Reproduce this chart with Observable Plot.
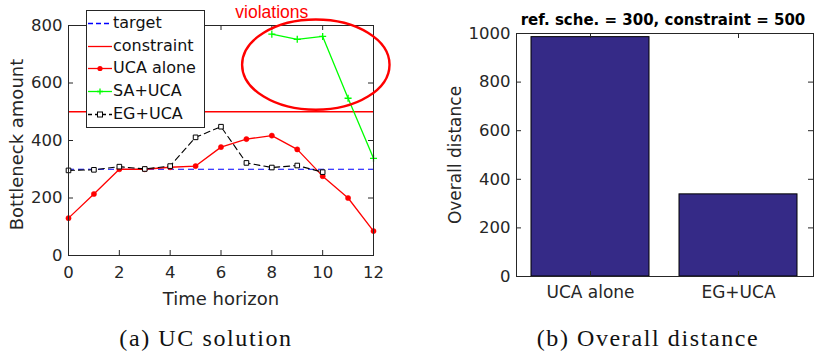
<!DOCTYPE html>
<html>
<head>
<meta charset="utf-8">
<script src="https://cdn.jsdelivr.net/npm/d3@7"></script>
<script src="https://cdn.jsdelivr.net/npm/@observablehq/plot@0.6"></script>
<style>
  html, body { margin: 0; padding: 0; background: #fff; }
  #page { position: relative; width: 814px; height: 353px; overflow: hidden; background: #fff; }
  #left, #right { position: absolute; top: 0; }
  #left { left: 0; }
  #right { left: 410px; }
  svg { overflow: visible; }
  #legend { position: absolute; left: 86px; top: 10px; width: 117px; height: 115px; border: 1px solid #262626; background: #fff;
            font-family: "DejaVu Sans"; font-size: 16px; color: #111; padding-top: 1px; box-sizing: content-box; }
  .row { height: 22.7px; line-height: 22.7px; display: flex; align-items: center; white-space: nowrap; }
  .row svg { width: 26px; height: 22.7px; flex: none; }
  .cap { position: absolute; font-family: "Liberation Serif"; font-size: 24px; letter-spacing: 1.6px; line-height: 24px; color: #111;
         transform: translateX(-50%); white-space: nowrap; }
</style>
</head>
<body>
<div id="page">
  <div id="left"></div>
  <div id="right"></div>
  <div id="legend"></div>
  <div class="cap" id="capA" style="left:206px; top:326px;"></div>
  <div class="cap" id="capB" style="left:648px; top:326px;"></div>
</div>
<script>
// ---------- data ----------
const timeSteps = [0, 1, 2, 3, 4, 5, 6, 7, 8, 9, 10, 11, 12];
const ucaAlone  = [130, 214, 300, 300, 307, 311, 377, 405, 417, 369, 276, 200, 85];
const saUcaTime = [8, 9, 10, 11, 12];
const saUca     = [770, 752, 762, 547, 338];
const egUcaTime = [0, 1, 2, 3, 4, 5, 6, 7, 8, 9, 10];
const egUca     = [296, 298, 309, 301, 311, 411, 448, 322, 306, 313, 290];
const targetValue = [300];
const constraintValue = [500];
const xTicks = [0, 2, 4, 6, 8, 10, 12];
const yTicksLeft = [0, 200, 400, 600, 800];

const barCategories = ["UCA alone", "EG+UCA"];
const barDistance   = [985, 338];
const yTicksRight = [0, 200, 400, 600, 800, 1000];

const legendLabels = ["target", "constraint", "UCA alone", "SA+UCA", "EG+UCA"];
const violationNote = [{label: "violations", x: 8.0}];
const violationEllipse = {cx: 9.75, cy: 662, rx: 2.9, ry: 157};
const rightTitle = "ref. sche. = 300, constraint = 500";
const captions = ["(a) UC solution", "(b) Overall distance"];

// ---------- styles ----------
const AX = "#262626";
const RED = "#ff0000", GREEN = "#00ff00", BLUE = "#0000ff", BLACK = "#000000";
const BAR = "#352a87";
const plain = d3.format("d");

// ---------- left plot ----------
const L = {width: 410, height: 310, marginLeft: 68, marginRight: 37, marginTop: 25, marginBottom: 55};
const LW = L.width - L.marginLeft - L.marginRight;   // 305
const LH = L.height - L.marginTop - L.marginBottom;  // 230

const ucaData = timeSteps.map((t, i) => ({t, v: ucaAlone[i]}));
const saData = saUcaTime.map((t, i) => ({t, v: saUca[i]}));
const egData = egUcaTime.map((t, i) => ({t, v: egUca[i]}));

function ellipseMark(e) {
  return function(index, scales) {
    const x = scales.x, y = scales.y;
    const cx = x(e.cx), cy = y(e.cy);
    const rx = Math.abs(x(e.cx + e.rx) - cx), ry = Math.abs(y(e.cy + e.ry) - cy);
    const el = document.createElementNS("http://www.w3.org/2000/svg", "ellipse");
    el.setAttribute("cx", cx); el.setAttribute("cy", cy);
    el.setAttribute("rx", rx); el.setAttribute("ry", ry);
    el.setAttribute("fill", "none"); el.setAttribute("stroke", RED); el.setAttribute("stroke-width", 2.4);
    return el;
  };
}

const leftPlot = Plot.plot({
  ...L,
  style: {fontFamily: "DejaVu Sans", fontSize: "16.5px", color: AX, background: "transparent", overflow: "visible"},
  x: {domain: [0, 12]},
  y: {domain: [0, 800]},
  marks: [
    Plot.ruleY(targetValue, {y: d => d, stroke: BLUE, strokeWidth: 1.2, strokeDasharray: "6,4"}),
    Plot.ruleY(constraintValue, {y: d => d, stroke: RED, strokeWidth: 1.3}),
    Plot.line(ucaData, {x: "t", y: "v", stroke: RED, strokeWidth: 1.3}),
    Plot.dot(ucaData, {x: "t", y: "v", r: 2.6, fill: RED, stroke: RED, strokeWidth: 0.5}),
    Plot.line(saData, {x: "t", y: "v", stroke: GREEN, strokeWidth: 1.3}),
    Plot.dot(saData, {x: "t", y: "v", symbol: "plus", r: 2.4, stroke: GREEN, strokeWidth: 1.3}),
    Plot.line(egData, {x: "t", y: "v", stroke: BLACK, strokeWidth: 1.1, strokeDasharray: "6,4"}),
    Plot.dot(egData, {x: "t", y: "v", symbol: "square", r: 2.6, fill: "#fff", stroke: BLACK, strokeWidth: 1}),
    Plot.frame({stroke: AX, strokeWidth: 1}),
    // inward ticks on all four sides
    Plot.tickX(xTicks, {x: d => d, insetTop: LH - 5, stroke: AX}),
    Plot.tickX(xTicks, {x: d => d, insetBottom: LH - 5, stroke: AX}),
    Plot.tickY(yTicksLeft, {y: d => d, insetRight: LW - 5, stroke: AX}),
    Plot.tickY(yTicksLeft, {y: d => d, insetLeft: LW - 5, stroke: AX}),
    Plot.axisX({ticks: xTicks, tickSize: 0, tickPadding: 11, label: null, tickFormat: plain}),
    Plot.axisY({ticks: yTicksLeft, tickSize: 0, tickPadding: 6, label: null, tickFormat: plain}),
    Plot.text(["Time horizon"], {x: null, y: null, frameAnchor: "bottom", dy: 49, lineAnchor: "bottom", fontSize: 18, fill: AX}),
    Plot.text(["Bottleneck amount"], {x: null, y: null, frameAnchor: "left", dx: -51, dy: 4, rotate: -90,
      textAnchor: "middle", lineAnchor: "middle", fontSize: 18, fill: AX}),
    ellipseMark(violationEllipse),
    Plot.text(violationNote, {x: "x", y: null, text: "label", frameAnchor: "top", dy: -8, lineAnchor: "bottom",
      fontSize: 17.5, fontFamily: "Liberation Sans", fill: RED})
  ]
});
document.getElementById("left").appendChild(leftPlot);

// ---------- right plot ----------
const R = {width: 404, height: 310, marginLeft: 106, marginRight: 1, marginTop: 33, marginBottom: 34};
const RW = R.width - R.marginLeft - R.marginRight;
const RH = R.height - R.marginTop - R.marginBottom;
const barData = barCategories.map((c, i) => ({c, v: barDistance[i]}));

const rightPlot = Plot.plot({
  ...R,
  style: {fontFamily: "DejaVu Sans", fontSize: "16.5px", color: AX, background: "transparent", overflow: "visible"},
  x: {type: "band", domain: barCategories, paddingInner: 0.2, paddingOuter: 0.1},
  y: {domain: [0, 1000]},
  marks: [
    Plot.barY(barData, {x: "c", y: "v", fill: BAR, stroke: "#000", strokeWidth: 1}),
    Plot.frame({stroke: AX, strokeWidth: 1}),
    Plot.tickX(barCategories, {x: d => d, insetTop: RH - 5, stroke: AX}),
    Plot.tickX(barCategories, {x: d => d, insetBottom: RH - 5, stroke: AX}),
    Plot.tickY(yTicksRight, {y: d => d, insetRight: RW - 5, stroke: AX}),
    Plot.tickY(yTicksRight, {y: d => d, insetLeft: RW - 5, stroke: AX}),
    Plot.axisX({tickSize: 0, tickPadding: 9, label: null, fontSize: 17}),
    Plot.axisY({ticks: yTicksRight, tickSize: 0, tickPadding: 6, label: null, tickFormat: plain}),
    Plot.text(["Overall distance"], {x: null, y: null, frameAnchor: "left", dx: -61, rotate: -90,
      textAnchor: "middle", lineAnchor: "middle", fontSize: 17, fill: AX}),
    Plot.text([rightTitle], {x: null, y: null, frameAnchor: "top", dx: -2, dy: -9, lineAnchor: "bottom", fontSize: 15, fontWeight: "bold", fill: "#000"})
  ]
});
document.getElementById("right").appendChild(rightPlot);

// ---------- legend (overlay on the left axes) ----------
const legendStyles = [
  {stroke: BLUE, dash: "5,3", marker: null},
  {stroke: RED, dash: null, marker: null},
  {stroke: RED, dash: null, marker: "dot"},
  {stroke: GREEN, dash: null, marker: "plus"},
  {stroke: BLACK, dash: "4,3", marker: "square"}
];
const legend = d3.select("#legend");
legendLabels.forEach((lab, i) => {
  const s = legendStyles[i];
  const row = legend.append("div").attr("class", "row");
  const svg = row.append("svg");
  svg.append("line").attr("x1", 1).attr("x2", 25).attr("y1", 11.5).attr("y2", 11.5)
    .attr("stroke", s.stroke).attr("stroke-width", 1.3).attr("stroke-dasharray", s.dash);
  if (s.marker === "dot") svg.append("circle").attr("cx", 13).attr("cy", 11.5).attr("r", 2.6).attr("fill", s.stroke);
  if (s.marker === "plus") svg.append("path").attr("d", "M10,11.5H16M13,8.5V14.5").attr("stroke", s.stroke).attr("stroke-width", 1.3);
  if (s.marker === "square") svg.append("rect").attr("x", 10.5).attr("y", 9).attr("width", 5).attr("height", 5)
    .attr("fill", "#fff").attr("stroke", s.stroke);
  row.append("span").text(lab);
});

// ---------- captions ----------
document.getElementById("capA").textContent = captions[0];
document.getElementById("capB").textContent = captions[1];
</script>
</body>
</html>
